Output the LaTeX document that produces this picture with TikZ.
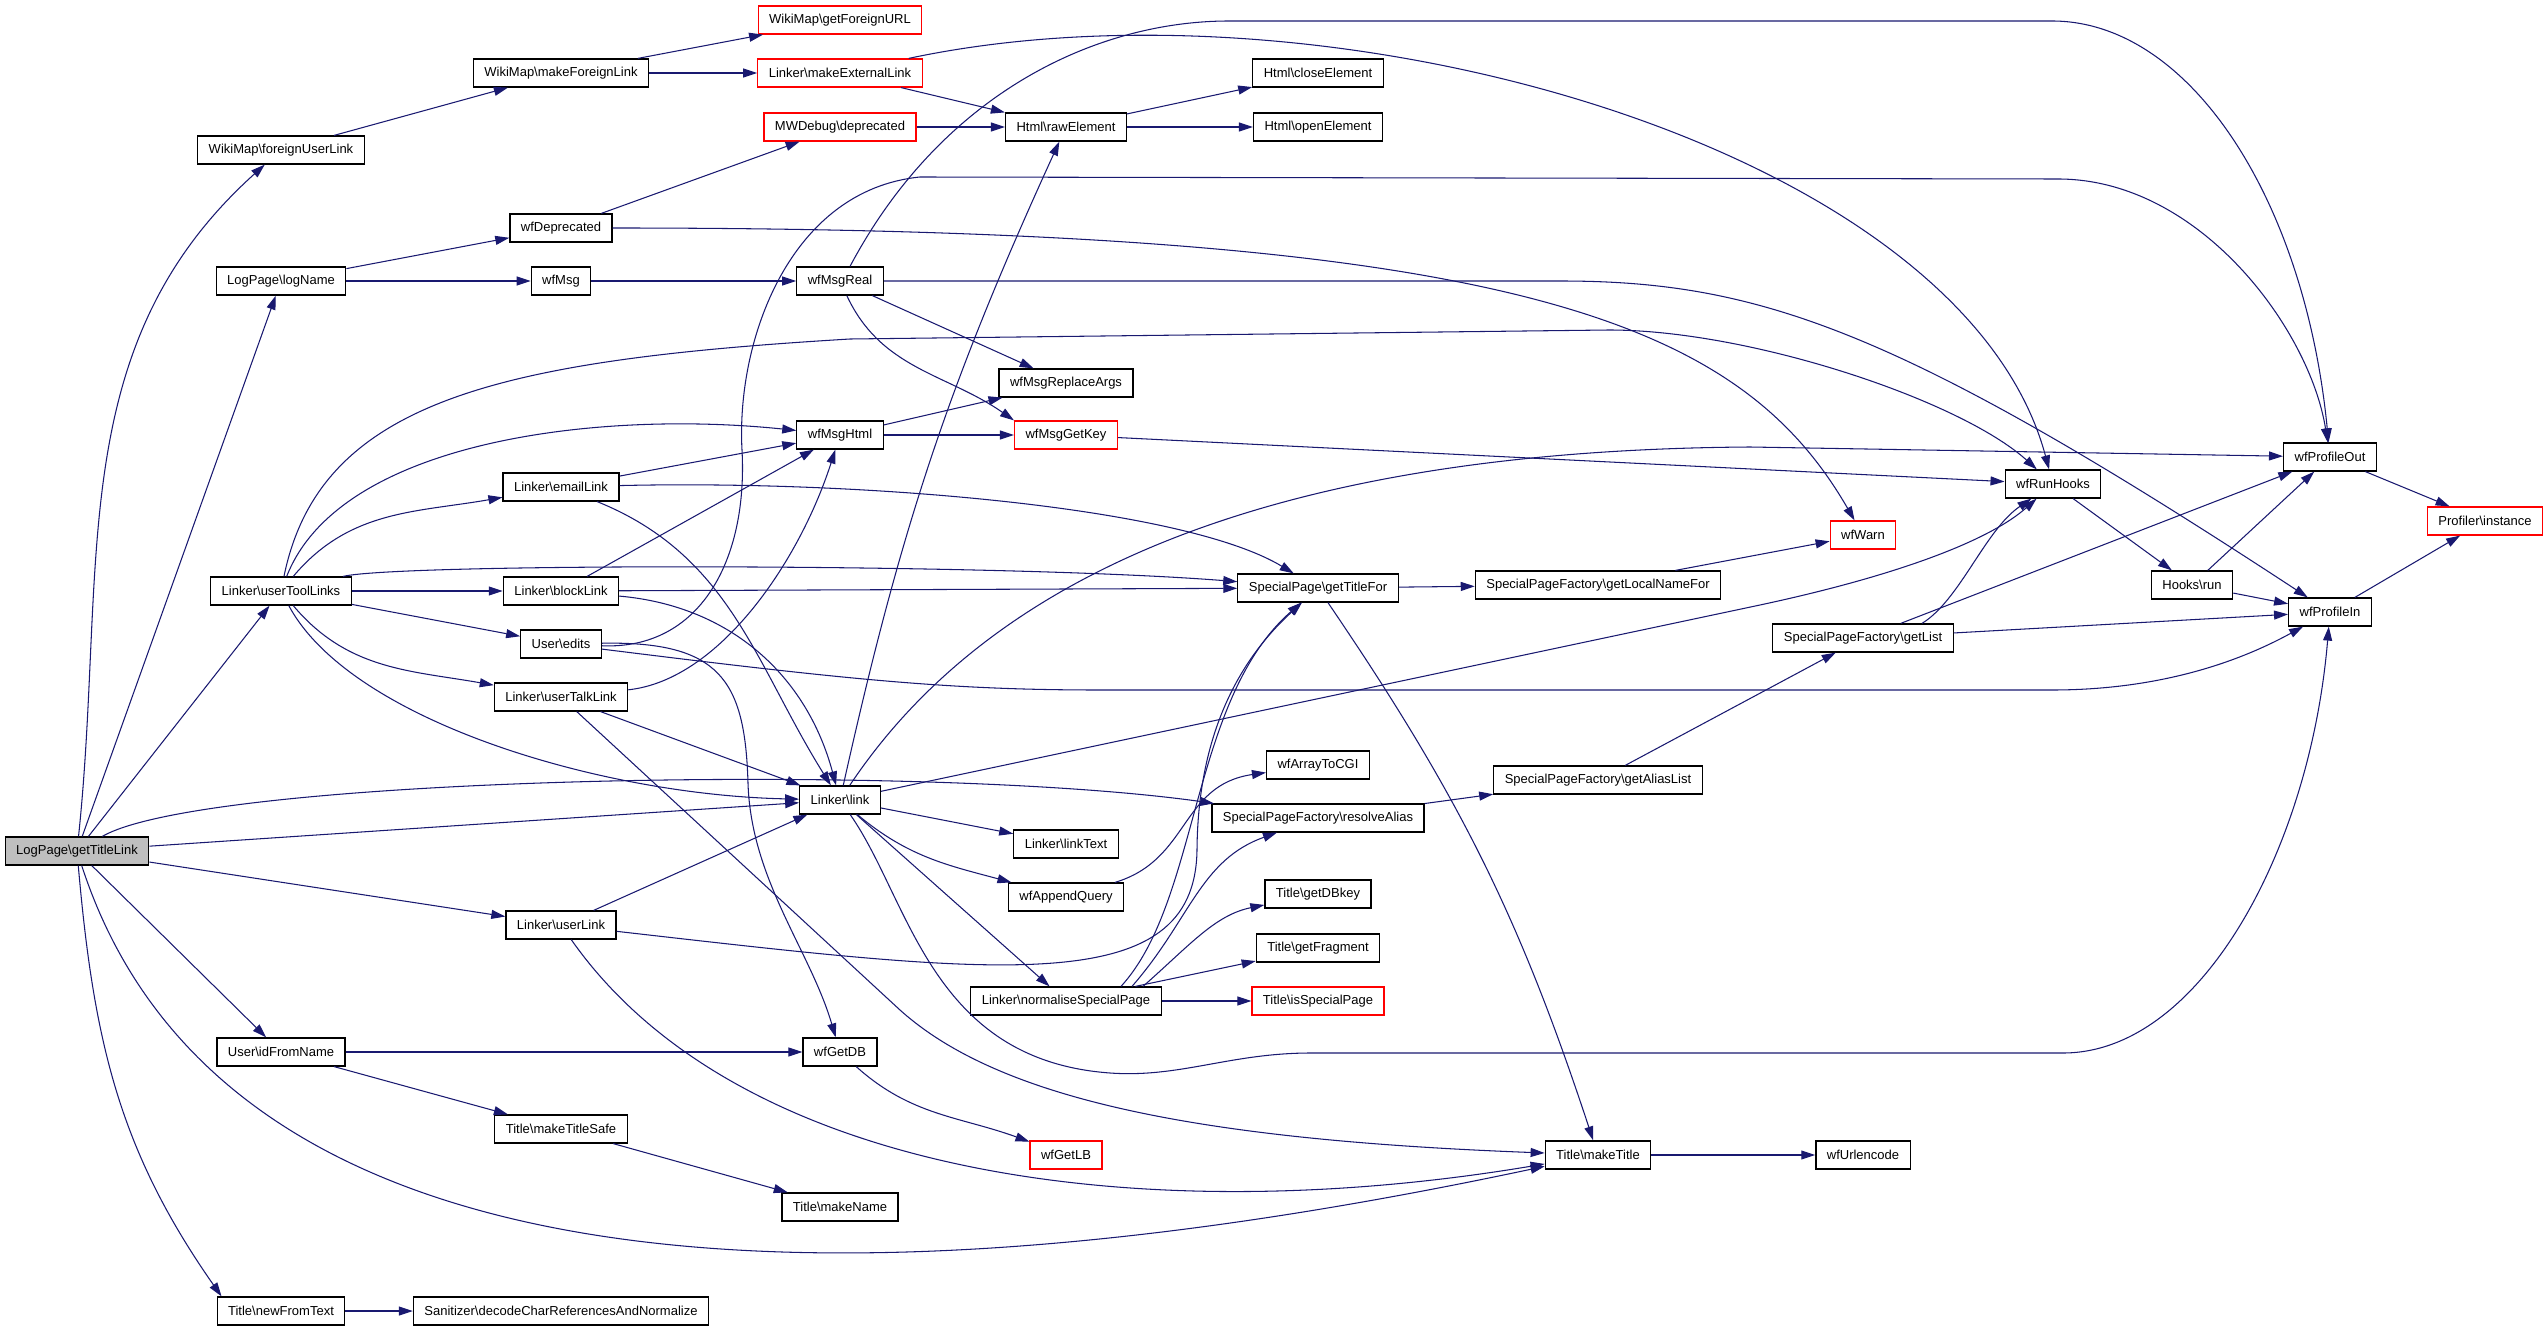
\documentclass[tikz,border=0pt]{standalone}
\usepackage{fontspec}
\setmainfont{Liberation Sans}
\usepackage{xcolor}
\usetikzlibrary{arrows.meta,calc}
\definecolor{callblue}{HTML}{191970}
\definecolor{rootgray}{HTML}{BFBFBF}
\newcommand{\bsl}{\textbackslash}

\begin{document}
\begin{tikzpicture}[
      x=0.02cm, y=0.02cm, >={Triangle[length=0.28cm,width=0.18cm]},
      fn/.style={draw,rectangle,fill=white,line width=0.7pt,minimum height=0.56cm,
                 inner xsep=0.22cm,inner ysep=0pt,font=\fontsize{7.4}{9}\selectfont},
      ext/.style={fn,draw=red},
      root/.style={fn,fill=rootgray},
      call/.style={->,draw=callblue,line width=0.6pt}
  ]
      \useasboundingbox (0,0) rectangle (2547,-1331);

      % nodes, column by column
      \node[root] (gtl) at (77,-851) {LogPage\bsl getTitleLink};

      \node[fn] (fuLink)      at (281,-150)  {WikiMap\bsl foreignUserLink};
      \node[fn] (logName)     at (281,-281)  {LogPage\bsl logName};
      \node[fn] (utLinks)     at (281,-591)  {Linker\bsl userToolLinks};
      \node[fn] (idFromName)  at (281,-1052) {User\bsl idFromName};
      \node[fn] (newFromText) at (281,-1311) {Title\bsl newFromText};

      \node[fn] (mfLink)    at (561,-73)   {WikiMap\bsl makeForeignLink};
      \node[fn] (wfDepr)    at (561,-228)  {wfDeprecated};
      \node[fn] (wfMsg)     at (561,-281)  {wfMsg};
      \node[fn] (emailLink) at (561,-487)  {Linker\bsl emailLink};
      \node[fn] (blockLink) at (561,-591)  {Linker\bsl blockLink};
      \node[fn] (edits)     at (561,-644)  {User\bsl edits};
      \node[fn] (utalkLink) at (561,-697)  {Linker\bsl userTalkLink};
      \node[fn] (userLink)  at (561,-925)  {Linker\bsl userLink};
      \node[fn] (mtSafe)    at (561,-1129) {Title\bsl makeTitleSafe};
      \node[fn] (sanitizer) at (561,-1311) {Sanitizer\bsl decodeCharReferencesAndNormalize};

      \node[ext] (fURL)    at (840,-20)   {WikiMap\bsl getForeignURL};
      \node[ext] (extLink) at (840,-73)   {Linker\bsl makeExternalLink};
      \node[ext] (mwDepr)  at (840,-127)  {MWDebug\bsl deprecated};
      \node[fn]  (msgReal) at (840,-281)  {wfMsgReal};
      \node[fn]  (msgHtml) at (840,-435)  {wfMsgHtml};
      \node[fn]  (link)    at (840,-800)  {Linker\bsl link};
      \node[fn]  (getDB)   at (840,-1052) {wfGetDB};
      \node[fn]  (makeName) at (840,-1207) {Title\bsl makeName};

      \node[fn]  (rawEl)    at (1066,-127)  {Html\bsl rawElement};
      \node[fn]  (replArgs) at (1066,-383)  {wfMsgReplaceArgs};
      \node[ext] (getKey)   at (1066,-435)  {wfMsgGetKey};
      \node[fn]  (linkText) at (1066,-844)  {Linker\bsl linkText};
      \node[fn]  (appendQ)  at (1066,-897)  {wfAppendQuery};
      \node[fn]  (normSP)   at (1066,-1001) {Linker\bsl normaliseSpecialPage};
      \node[ext] (getLB)    at (1066,-1155) {wfGetLB};

      \node[fn]  (closeEl)  at (1318,-73)   {Html\bsl closeElement};
      \node[fn]  (openEl)   at (1318,-127)  {Html\bsl openElement};
      \node[fn]  (titleFor) at (1318,-588)  {SpecialPage\bsl getTitleFor};
      \node[fn]  (arrayCGI) at (1318,-765)  {wfArrayToCGI};
      \node[fn]  (resolve)  at (1318,-818)  {SpecialPageFactory\bsl resolveAlias};
      \node[fn]  (dbKey)    at (1318,-894)  {Title\bsl getDBkey};
      \node[fn]  (fragment) at (1318,-948)  {Title\bsl getFragment};
      \node[ext] (isSP)     at (1318,-1001) {Title\bsl isSpecialPage};

      \node[fn] (localName) at (1598,-585)  {SpecialPageFactory\bsl getLocalNameFor};
      \node[fn] (aliasList) at (1598,-780)  {SpecialPageFactory\bsl getAliasList};
      \node[fn] (makeTitle) at (1598,-1155) {Title\bsl makeTitle};

      \node[ext] (wfWarn)    at (1863,-535)  {wfWarn};
      \node[fn]  (getList)   at (1863,-638)  {SpecialPageFactory\bsl getList};
      \node[fn]  (urlencode) at (1863,-1155) {wfUrlencode};

      \node[fn]  (runHooks) at (2053,-484) {wfRunHooks};
      \node[fn]  (hooksRun) at (2192,-585) {Hooks\bsl run};
      \node[fn]  (profOut)  at (2330,-457) {wfProfileOut};
      \node[fn]  (profIn)   at (2330,-612) {wfProfileIn};
      \node[ext] (profInst) at (2485,-521) {Profiler\bsl instance};

      % calls from LogPage\getTitleLink
      \draw[call] (gtl) to[out=84,in=222] (fuLink);
      \draw[call] (gtl) -- (logName);
      \draw[call] (gtl) -- (utLinks);
      \draw[call] (gtl) -- (link);
      \draw[call] (gtl) .. controls +(30:150) and +(172:400) .. (resolve);
      \draw[call] (gtl) -- (userLink);
      \draw[call] (gtl) -- (idFromName);
      \draw[call] (gtl) to[out=-85,in=125] ($(newFromText.north west)+(5,0)$);
      \draw[call] (gtl) .. controls +(-72:520) and +(-168:650) .. (makeTitle);

      % WikiMap, Html
      \draw[call] (fuLink) -- (mfLink);
      \draw[call] (mfLink) -- (fURL);
      \draw[call] (mfLink) -- (extLink);
      \draw[call] (extLink) -- (rawEl);
      \draw[call] (extLink) .. controls +(12:500) and +(105:350) .. (runHooks);
      \draw[call] (mwDepr) -- (rawEl);
      \draw[call] (rawEl) -- (closeEl);
      \draw[call] (rawEl) -- (openEl);

      % messages
      \draw[call] (wfDepr) -- (mwDepr);
      \draw[call] (wfDepr) .. controls +(0:950) and +(120:250) .. (wfWarn);
      \draw[call] (logName) -- (wfDepr);
      \draw[call] (logName) -- (wfMsg);
      \draw[call] (wfMsg) -- (msgReal);
      \draw[call] (msgReal) -- (replArgs);
      \draw[call] (msgReal) to[out=-65,in=145] (getKey.north west);
      \draw[call] ($(msgReal.north)+(10,0)$) .. controls +(62:200) and (1100,-21) .. (1229,-21)
          -- (2052,-21) .. controls (2190,-21) and (2305,-200) .. (profOut);
      \draw[call] (msgReal) -- (1560,-281) .. controls (1760,-281) and (1900,-330) .. (profIn);
      \draw[call] (msgHtml) -- (replArgs);
      \draw[call] (msgHtml) -- (getKey);
      \draw[call] (getKey) -- (runHooks);

      % Linker\userToolLinks
      \draw[call] (utLinks) .. controls (320,-400) and (500,-360) .. (850,-339)
          -- (1609,-330) .. controls (1750,-330) and (1960,-400) .. (runHooks);
      \draw[call] (utLinks) .. controls (340,-440) and (600,-410) .. (msgHtml);
      \draw[call] (utLinks) to[out=50,in=190] (emailLink);
      \draw[call] (utLinks) .. controls (400,-563) and (1000,-563) .. (titleFor);
      \draw[call] (utLinks) -- (blockLink);
      \draw[call] (utLinks) -- (edits);
      \draw[call] (utLinks) to[out=-50,in=170] (utalkLink);
      \draw[call] (utLinks) .. controls (350,-720) and (600,-795) .. (link);

      % Linker\emailLink, Linker\blockLink
      \draw[call] (emailLink) -- (msgHtml);
      \draw[call] (emailLink) .. controls (850,-480) and (1180,-505) .. (titleFor);
      \draw[call] (emailLink) to[out=-22,in=122] (link);
      \draw[call] (blockLink) -- (msgHtml);
      \draw[call] (blockLink) -- (titleFor);
      \draw[call] (blockLink) to[out=-5,in=105] (link);

      % User\edits
      \draw[call] (edits) .. controls (700,-650) and (748,-560) .. (742,-450)
          .. controls (736,-340) and (790,-190) .. (920,-177)
          -- (2058,-179) .. controls (2200,-179) and (2310,-330) .. (profOut);
      \draw[call] (edits) .. controls (720,-641) and (745,-680) .. (748,-783)
          .. controls (751,-880) and (810,-950) .. (getDB);
      \draw[call] (edits) .. controls (850,-680) and (950,-690) .. (1100,-690)
          -- (2052,-690) .. controls (2180,-690) and (2260,-650) .. (profIn);

      % Linker\userTalkLink, Linker\userLink
      \draw[call] (utalkLink) .. controls (720,-680) and (800,-560) .. (msgHtml);
      \draw[call] (utalkLink) -- (link);
      \draw[call] (utalkLink) -- (900,-1010) .. controls (1000,-1100) and (1200,-1140) .. (makeTitle);
      \draw[call] (userLink) -- (link);
      \draw[call] (userLink) .. controls (1000,-975) and (1195,-1000) .. (1197,-850)
          .. controls (1198,-720) and (1250,-650) .. (titleFor);
      \draw[call] (userLink) .. controls (740,-1180) and (1150,-1230) .. (makeTitle);

      % User\idFromName, Title
      \draw[call] (idFromName) -- (getDB);
      \draw[call] (idFromName) -- (mtSafe);
      \draw[call] (mtSafe) -- (makeName);
      \draw[call] (newFromText) -- (sanitizer);
      \draw[call] (getDB) to[out=-42,in=160] (getLB);

      % Linker\link
      \draw[call] (link) to[bend left=6] (rawEl);
      \draw[call] (link) .. controls (1000,-560) and (1300,-450) .. (1750,-447) -- (profOut);
      \draw[call] (link) -- (1760,-605) .. controls (1900,-575) and (1990,-540) .. (runHooks);
      \draw[call] (link) -- (linkText);
      \draw[call] (link) to[out=-40,in=165] (appendQ);
      \draw[call] (link) -- (normSP);
      \draw[call] (link) .. controls (910,-900) and (930,-1060) .. (1110,-1073)
          .. controls (1180,-1078) and (1230,-1053) .. (1311,-1053)
          -- (2063,-1053) .. controls (2200,-1053) and (2310,-850) .. (profIn);
      \draw[call] (appendQ) .. controls (1190,-860) and (1180,-785) .. (arrayCGI);

      % Linker\normaliseSpecialPage
      \draw[call] (normSP) -- (isSP);
      \draw[call] (normSP) -- (fragment);
      \draw[call] ($(normSP.north)+(55,0)$) .. controls (1200,-900) and (1190,-700) .. (titleFor);
      \draw[call] ($(normSP.north)+(66,0)$) .. controls (1190,-920) and (1200,-860) .. (resolve);
      \draw[call] ($(normSP.north)+(77,0)$) .. controls (1190,-945) and (1215,-915) .. (dbKey);

      % SpecialPage, SpecialPageFactory
      \draw[call] (titleFor) -- (localName);
      \draw[call] (titleFor) to[bend left=8] (makeTitle);
      \draw[call] (localName) -- (wfWarn);
      \draw[call] (resolve) -- (aliasList);
      \draw[call] (aliasList) -- (getList);
      \draw[call] (makeTitle) -- (urlencode);
      \draw[call] ($(getList.north)+(59,0)$) .. controls (1960,-600) and (1985,-530) .. (runHooks);
      \draw[call] (getList) -- (profOut);
      \draw[call] (getList) -- (profIn);

      % hooks, profiler
      \draw[call] (runHooks) -- (hooksRun);
      \draw[call] (hooksRun) -- (profOut);
      \draw[call] (hooksRun) -- (profIn);
      \draw[call] (profOut) -- (profInst);
      \draw[call] (profIn) -- (profInst);
  \end{tikzpicture}
\end{document}
